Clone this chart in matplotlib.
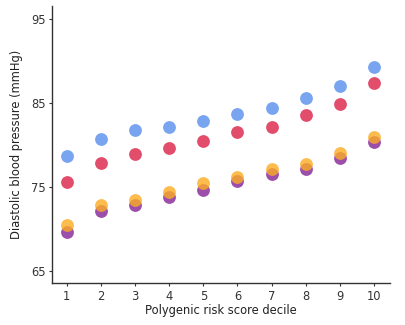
import numpy as np
import matplotlib
matplotlib.use("Agg")
import matplotlib.pyplot as plt

# deciles of polygenic risk score
decile = [1, 2, 3, 4, 5, 6, 7, 8, 9, 10]

# diastolic BP per decile, one list per group
blue = [78.7, 80.7, 81.8, 82.2, 82.9, 83.7, 84.4, 85.6, 87.0, 89.3]
red = [75.6, 77.8, 78.9, 79.7, 80.5, 81.6, 82.2, 83.6, 84.9, 87.4]
purple = [69.6, 72.1, 72.9, 73.8, 74.6, 75.7, 76.5, 77.2, 78.5, 80.4]
orange = [70.5, 72.9, 73.5, 74.4, 75.5, 76.2, 77.1, 77.7, 79.1, 81.0]

yticks = [65, 75, 85, 95]

fig = plt.figure(figsize=(4.05, 3.25), dpi=100)
ax = fig.add_axes([0.128, 0.128, 0.835, 0.854])

ax.scatter(decile, blue, s=85, color="#6a9bef", alpha=0.9, lw=0)
ax.scatter(decile, red, s=85, color="#e03a5c", alpha=0.9, lw=0)
ax.scatter(decile, purple, s=85, color="#8b2f9c", alpha=0.85, lw=0)
ax.scatter(decile, orange, s=85, color="#fcab22", alpha=0.8, lw=0)

ax.set_xlim(0.56, 10.47)
ax.set_ylim(63.5, 96.6)
ax.set_xticks(decile)
ax.set_yticks(yticks)

ax.spines["top"].set_visible(False)
ax.spines["right"].set_visible(False)
for s in ["left", "bottom"]:
    ax.spines[s].set_color("#333333")
    ax.spines[s].set_linewidth(1.0)
ax.tick_params(labelsize=8.3, colors="#333333", length=2.5, width=0.8, pad=2)

ax.set_xlabel("Polygenic risk score decile", fontsize=8.3, color="#222222")
ax.set_ylabel("Diastolic blood pressure (mmHg)", fontsize=8.3, color="#222222")
ax.xaxis.set_label_coords(0.5, -0.075)
ax.yaxis.set_label_coords(-0.085, 0.5)

fig.savefig("out.png", dpi=100)
